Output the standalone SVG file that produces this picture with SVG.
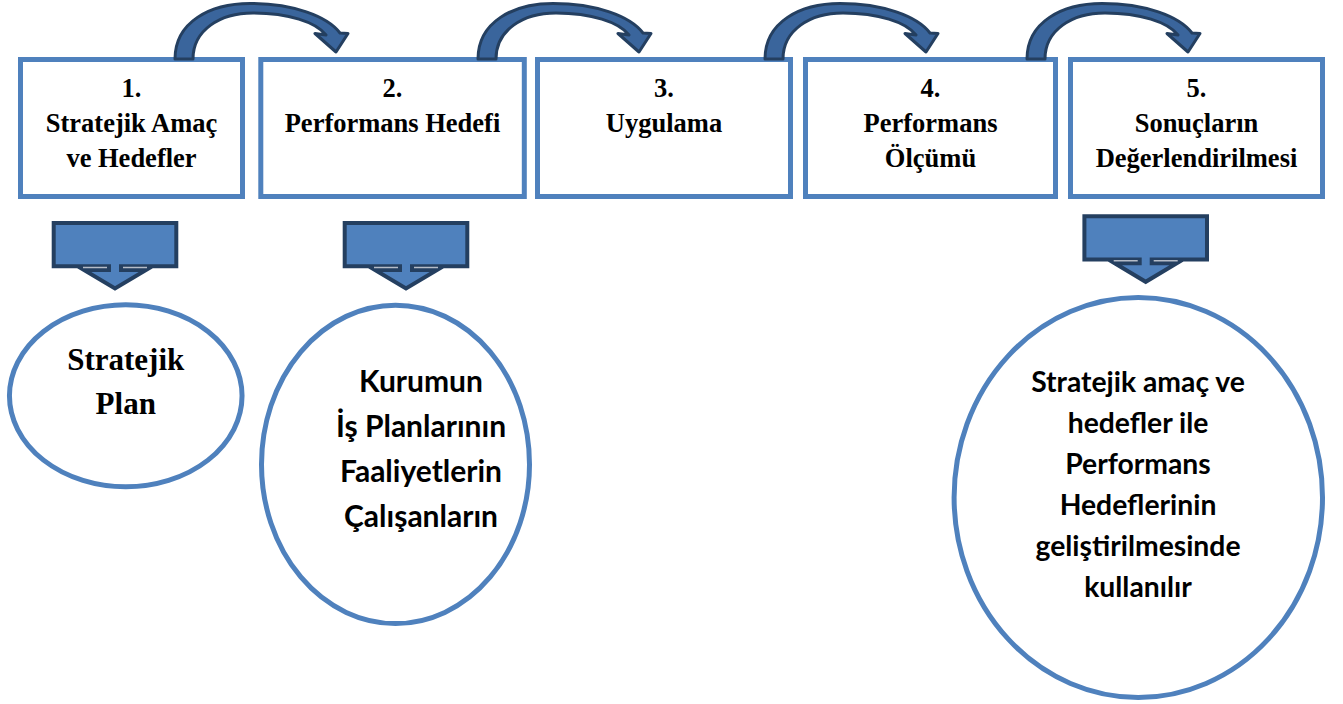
<svg xmlns="http://www.w3.org/2000/svg" xmlns:xlink="http://www.w3.org/1999/xlink" width="1343" height="704" viewBox="0 0 1343 704">
<style>
.box{fill:#fff;stroke:#4F81BD;stroke-width:5}
.oval{fill:#fff;stroke:#4F81BD;stroke-width:5}
.bt{font-family:"Liberation Serif","Times New Roman",serif;font-weight:bold;font-size:26.5px;fill:#000;text-anchor:middle}
.et{font-family:"Liberation Serif","Times New Roman",serif;font-weight:bold;font-size:31px;fill:#000;text-anchor:middle}
.ct{font-family:Lato,"Open Sans",sans-serif;font-weight:bold;fill:#000;text-anchor:middle}
.c2{font-size:30px}
.c3{font-size:28.3px}
.carrow{fill:#3A659C;stroke:#243F60;stroke-width:3;stroke-linejoin:round}
.callout{fill:#4F81BD;stroke:#243F60;stroke-width:4;stroke-linejoin:miter}
.hl{stroke:#B4BCC8;stroke-width:1.5;fill:none}
</style>
<defs>
<path id="cur" d="M0,59 C0,22 35,3.5 75,3.5 C118,3.5 152,16 165,33 L173,33.5 L161,52 L140,33.5 L151,35 C141,22 113,13 78,13 C45,13 18,30 18,59 Z"/>
<g id="call">
<path class="callout" d="M-61.3,2 H61.3 V45.3 H6 V49 H31 L0,67.5 L-31,49 H-6 V45.3 H-61.3 Z"/>
<path class="hl" d="M-32,46.5 H-8 M8,46.5 H32"/>
</g>
</defs>
<rect width="1343" height="704" fill="#fff"/>
<g id="node1">
<rect class="box" x="20.5" y="59.5" width="222" height="137"/>
<text class="bt" x="131.5" y="96.7">1.</text>
<text class="bt" x="131.5" y="131.7">Stratejik Amaç</text>
<text class="bt" x="131.5" y="166.7">ve Hedefler</text>
</g>
<g id="node2">
<rect class="box" x="260.8" y="59.5" width="263.5" height="137"/>
<text class="bt" x="392.5" y="96.7">2.</text>
<text class="bt" x="392.5" y="131.7">Performans Hedefi</text>
</g>
<g id="node3">
<rect class="box" x="537.5" y="59.5" width="253" height="137"/>
<text class="bt" x="664" y="96.7">3.</text>
<text class="bt" x="664" y="131.7">Uygulama</text>
</g>
<g id="node4">
<rect class="box" x="805.5" y="59.5" width="250" height="137"/>
<text class="bt" x="930.5" y="96.7">4.</text>
<text class="bt" x="930.5" y="131.7">Performans</text>
<text class="bt" x="930.5" y="166.7">Ölçümü</text>
</g>
<g id="node5">
<rect class="box" x="1070.5" y="59.5" width="252" height="137"/>
<text class="bt" x="1196.5" y="96.7">5.</text>
<text class="bt" x="1196.5" y="131.7">Sonuçların</text>
<text class="bt" x="1196.5" y="166.7">Değerlendirilmesi</text>
</g>
<g id="node6">
<ellipse class="oval" cx="125.75" cy="395.8" rx="116.3" ry="91"/>
<text class="et" x="125.75" y="370">Stratejik</text>
<text class="et" x="125.75" y="414">Plan</text>
</g>
<g id="node7">
<ellipse class="oval" cx="395.5" cy="464.4" rx="134" ry="159.2"/>
<text class="ct c2" x="421" y="391.7">Kurumun</text>
<text class="ct c2" x="421" y="436.7">İş Planlarının</text>
<text class="ct c2" x="421" y="481.7">Faaliyetlerin</text>
<text class="ct c2" x="421" y="526.7">Çalışanların</text>
</g>
<g id="node8">
<ellipse class="oval" cx="1138.3" cy="497.5" rx="184.2" ry="200"/>
<text class="ct c3" x="1138" y="391.7">Stratejik amaç ve</text>
<text class="ct c3" x="1138" y="433">hedefler ile</text>
<text class="ct c3" x="1138" y="474">Performans</text>
<text class="ct c3" x="1138" y="515">Hedeflerinin</text>
<text class="ct c3" x="1138" y="556">geliştirilmesinde</text>
<text class="ct c3" x="1138" y="597">kullanılır</text>
</g>
<g id="connectors">
<use xlink:href="#cur" class="carrow" transform="translate(175,0)"/>
<use xlink:href="#cur" class="carrow" transform="translate(478,0)"/>
<use xlink:href="#cur" class="carrow" transform="translate(765,0)"/>
<use xlink:href="#cur" class="carrow" transform="translate(1027,0)"/>
<use xlink:href="#call" transform="translate(115,221)"/>
<use xlink:href="#call" transform="translate(406,221)"/>
<use xlink:href="#call" transform="translate(1145.7,214.3)"/>
</g>
</svg>
